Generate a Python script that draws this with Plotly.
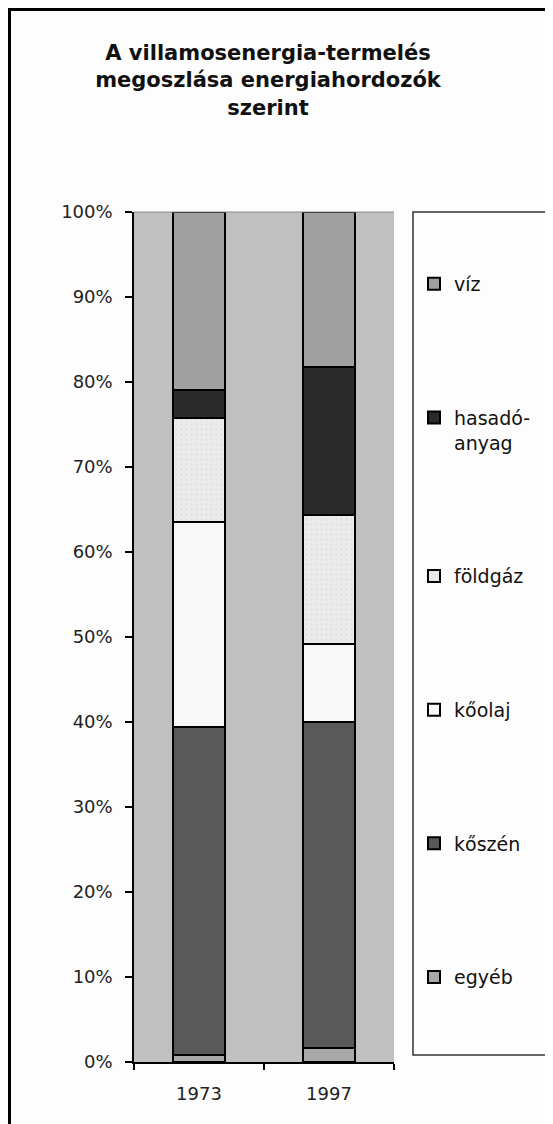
import plotly.graph_objects as go

years = ["1973", "1997"]
series_names = ["egyéb", "kőszén", "kőolaj", "földgáz", "hasadó-<br>anyag", "víz"]
egyeb = [0.8, 1.6]
koszen = [38.6, 38.4]
koolaj = [24.1, 9.2]
foldgaz = [12.3, 15.2]
hasado = [3.3, 17.4]
viz = [20.9, 18.2]
y_ticks = [0, 10, 20, 30, 40, 50, 60, 70, 80, 90, 100]
y_tick_labels = [f"{v}%" for v in y_ticks]

series_values = [egyeb, koszen, koolaj, foldgaz, hasado, viz]
colors = ["#a9a9a9", "#595959", "#f8f8f8", "#ebebeb", "#2a2a2a", "#a0a0a0"]

OFF = 8  # page body margin
PAGE_W, PAGE_H = 553, 1124
W, H = PAGE_W - OFF, PAGE_H - OFF
L, R, T, B = 134, 394, 212, 1062  # plot area in page coords
pw, ph = R - L, B - T

def px(x):
    return (x - L) / pw

def py(y):
    return (B - y) / ph

FONT = "DejaVu Sans, Verdana, sans-serif"

fig = go.Figure()
n = len(series_names)
for i, (name, vals, col) in enumerate(zip(series_names, series_values, colors)):
    marker = dict(color=col, line=dict(color="#000000", width=2))
    if name == "földgáz":
        marker["pattern"] = dict(shape=".", fgcolor="#cfcfcf", bgcolor=col, size=5, solidity=0.15)
    fig.add_trace(go.Bar(
        x=years, y=vals, name=name, marker=marker, legendgroup=name,
        legendrank=n - i,
    ))

fig.update_layout(
    width=W, height=H,
    margin=dict(l=L - OFF, r=W - (R - OFF), t=T - OFF, b=H - (B - OFF), pad=0),
    barmode="stack",
    bargap=0.6,
    paper_bgcolor="#fdfdfd",
    plot_bgcolor="#c0c0c0",
    font=dict(family=FONT, size=18, color="#222222"),
    title=dict(
        text="<b>A villamosenergia-termelés<br>megoszlása energiahordozók<br>szerint</b>",
        x=(268 - OFF) / W, xanchor="center", xref="container",
        y=1 - (60 - OFF) / H, yanchor="top", yref="container",
        font=dict(family=FONT, size=21, color="#111111"),
    ),
    showlegend=True,
    legend=dict(
        x=px(414), xanchor="left",
        y=py(265), yanchor="top",
        traceorder="grouped",
        tracegroupgap=106,
        bgcolor="rgba(0,0,0,0)",
        borderwidth=0,
        valign="top",
        font=dict(family=FONT, size=19, color="#111111"),
        itemwidth=30,
    ),
    xaxis=dict(
        type="category",
        showline=True, linecolor="#000000", linewidth=1.5,
        ticks="outside", ticklen=6, tickcolor="#000000", tickwidth=1.5,
        tickson="boundaries",
        ticklabelstandoff=15,
        showgrid=False, zeroline=False,
        tickfont=dict(family=FONT, size=18, color="#222222"),
    ),
    yaxis=dict(
        range=[0, 100],
        tickvals=y_ticks, ticktext=y_tick_labels,
        showline=True, linecolor="#000000", linewidth=1.5,
        ticks="outside", ticklen=7, tickcolor="#000000", tickwidth=1.5,
        ticklabelstandoff=9,
        showgrid=False, zeroline=False,
        tickfont=dict(family=FONT, size=18, color="#222222"),
    ),
    shapes=[
        dict(type="rect", xref="paper", yref="paper",
             x0=px(413), x1=px(PAGE_W + 20), y0=py(1055), y1=py(212),
             line=dict(color="#333333", width=1.5), fillcolor="rgba(0,0,0,0)", layer="below"),
        dict(type="line", xref="paper", yref="paper",
             x0=0, x1=1, y0=1, y1=1, line=dict(color="#8a8a8a", width=1)),
        dict(type="rect", xref="paper", yref="paper",
             x0=px(OFF + 1.5), x1=px(PAGE_W + 20), y0=py(PAGE_H + 20), y1=py(OFF + 1.5),
             line=dict(color="#000000", width=3), fillcolor="rgba(0,0,0,0)", layer="below"),
    ],
)

fig.write_html("out.html")
